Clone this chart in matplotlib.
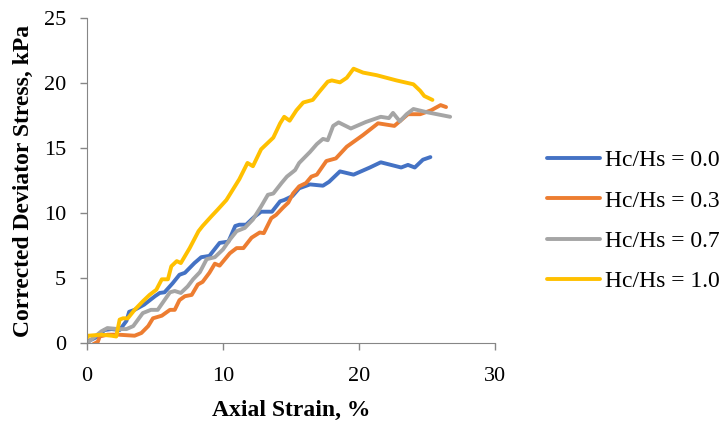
import numpy as np
import matplotlib.pyplot as plt

# Hc/Hs = 0.0
x_00 = [0.0, 0.6, 1.3, 1.8, 2.4, 2.9, 3.1, 3.5, 4.2, 5.0, 5.35, 5.7, 6.3, 6.8, 7.2, 7.9, 8.4, 9.0,
        9.75, 10.4, 10.9, 11.2, 11.7, 12.3, 12.8, 13.6, 14.2, 14.5, 15.1, 15.6, 16.4, 17.35, 17.8,
        18.6, 19.6, 20.8, 21.6, 23.1, 23.6, 24.1, 24.7, 25.25]
y_00 = [0.1, 0.4, 1.0, 1.07, 1.0, 1.7, 2.4, 2.55, 2.95, 3.6, 3.85, 3.9, 4.6, 5.25, 5.4, 6.15, 6.6, 6.7,
        7.7, 7.8, 9.0, 9.1, 9.1, 9.7, 10.1, 10.1, 10.9, 11.0, 11.3, 11.9, 12.2, 12.1, 12.4,
        13.2, 12.95, 13.5, 13.9, 13.5, 13.7, 13.5, 14.1, 14.3]

# Hc/Hs = 0.3
x_03 = [0.45, 0.8, 0.93, 1.5, 2.3, 3.5, 4.0, 4.5, 4.85, 5.5, 6.1, 6.45, 6.8, 7.2, 7.7, 8.15, 8.5, 9.0,
        9.4, 9.75, 10.5, 11.0, 11.5, 12.1, 12.7, 13.0, 13.55, 13.9, 14.4, 14.8, 15.15, 15.6, 16.1,
        16.5, 16.9, 17.6, 18.3, 19.1, 20.3, 21.4, 22.6, 23.6, 24.5, 25.3, 26.0, 26.4]
y_03 = [-0.1, 0.1, 0.5, 0.64, 0.64, 0.56, 0.77, 1.3, 1.9, 2.1, 2.55, 2.55, 3.3, 3.6, 3.7, 4.5, 4.7, 5.4,
        6.1, 5.95, 6.9, 7.3, 7.3, 8.1, 8.5, 8.45, 9.6, 9.85, 10.4, 10.8, 11.5, 12.05, 12.3,
        12.8, 12.95, 14.0, 14.2, 15.1, 16.0, 16.9, 16.7, 17.6, 17.6, 17.9, 18.3, 18.15]

# Hc/Hs = 0.7
x_07 = [0.0, 0.3, 1.06, 1.5, 2.3, 2.9, 3.4, 3.75, 4.1, 4.7, 5.2, 5.7, 6.1, 6.45, 6.9, 7.4, 7.8, 8.3,
        8.8, 9.4, 10.0, 10.5, 11.0, 11.6, 12.2, 12.8, 13.3, 13.7, 14.3, 14.7, 15.3, 15.6, 16.4,
        16.9, 17.35, 17.7, 18.1, 18.5, 19.4, 20.5, 21.6, 22.2, 22.5, 23.0, 23.5, 24.0, 25.0, 26.7]
y_07 = [0.0, 0.25, 0.9, 1.15, 1.07, 1.07, 1.3, 1.8, 2.3, 2.55, 2.55, 3.3, 3.9, 4.0, 3.85, 4.35, 4.9, 5.45,
        6.45, 6.6, 7.2, 7.95, 8.6, 8.85, 9.5, 10.5, 11.4, 11.5, 12.3, 12.8, 13.3, 13.85, 14.7,
        15.3, 15.7, 15.6, 16.7, 16.97, 16.5, 17.0, 17.4, 17.3, 17.7, 17.05, 17.6, 18.0, 17.75, 17.4]

# Hc/Hs = 1.0
x_10 = [0.0, 0.1, 1.06, 1.8, 2.15, 2.4, 2.65, 3.0, 3.5, 4.1, 4.6, 5.1, 5.5, 5.95, 6.2, 6.6, 6.9, 7.55,
        8.2, 8.5, 9.15, 9.6, 10.25, 11.2, 11.8, 12.2, 12.8, 13.7, 14.2, 14.5, 14.9, 15.4, 15.9,
        16.6, 17.1, 17.7, 18.0, 18.6, 19.1, 19.6, 20.3, 21.3, 22.75, 24.0, 24.5, 24.8, 25.4]
y_10 = [0.4, 0.56, 0.64, 0.56, 0.5, 1.8, 1.9, 1.9, 2.55, 3.2, 3.7, 4.1, 4.9, 4.9, 5.9, 6.3, 6.15, 7.3,
        8.6, 9.0, 9.75, 10.25, 11.0, 12.6, 13.85, 13.6, 14.9, 15.8, 16.9, 17.4, 17.1, 17.9, 18.5,
        18.7, 19.35, 20.1, 20.2, 20.05, 20.4, 21.1, 20.8, 20.6, 20.2, 19.9, 19.4, 19.0, 18.7]

labels = ['Hc/Hs = 0.0', 'Hc/Hs = 0.3', 'Hc/Hs = 0.7', 'Hc/Hs = 1.0']
colors = ['#4472C4', '#ED7D31', '#A5A5A5', '#FFC000']

plt.rcParams['font.family'] = ['Liberation Serif', 'DejaVu Serif']

fig = plt.figure(figsize=(7.24, 4.23), dpi=100)
ax = fig.add_axes([87 / 724, 80 / 423, 408 / 724, 325 / 423])

series = [(x_00, y_00), (x_03, y_03), (x_07, y_07), (x_10, y_10)]
for (xs, ys), lab, c in zip(series, labels, colors):
    ax.plot(xs, ys, color=c, lw=2.8, label=lab, solid_joinstyle='round', solid_capstyle='round')

ax.set_xlim(0, 30)
ax.set_ylim(0, 25)
ax.set_xticks([0, 10, 20, 30])
ax.set_yticks([0, 5, 10, 15, 20, 25])
ax.tick_params(labelsize=16, color='#868686', length=5, width=1)
ax.tick_params(axis='y', pad=10)
ax.tick_params(axis='x', pad=12)
for side in ['top', 'right']:
    ax.spines[side].set_visible(False)
for side in ['left', 'bottom']:
    ax.spines[side].set_color('#868686')
ax.set_xlabel('Axial Strain, %', fontsize=17, fontweight='bold', labelpad=10)
ax.set_ylabel('Corrected Deviator Stress, kPa', fontsize=17, fontweight='bold', labelpad=7)

fig.legend(loc='center left', bbox_to_anchor=(547 / 724, 1 - 221 / 423), frameon=False,
           fontsize=17, handlelength=2.25, labelspacing=0.8, handletextpad=0.2, borderpad=0,
           borderaxespad=0)

fig.savefig('out.png', dpi=100)
